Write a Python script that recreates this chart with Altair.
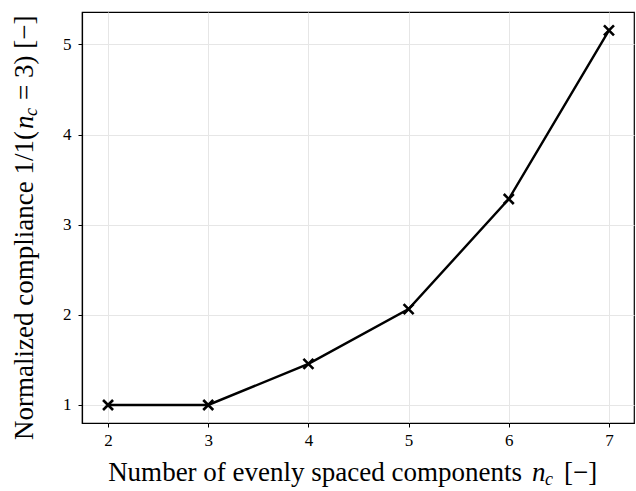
import altair as alt
import pandas as pd

# Normalized compliance versus number of evenly spaced components
n_components = [2, 3, 4, 5, 6, 7]
compliance = [1.0, 1.0, 1.456, 2.063, 3.285, 5.156]

x_ticks = [2, 3, 4, 5, 6, 7]
y_ticks = [1, 2, 3, 4, 5]

FONT = "Liberation Serif"
TITLE_SIZE = 27
SUB_SIZE = 18

df = pd.DataFrame({"nc": n_components, "c": compliance})

x_scale = alt.Scale(domain=[1.74, 7.25], nice=False, zero=False)
y_scale = alt.Scale(domain=[0.8, 5.36], nice=False, zero=False)

x_enc = alt.X(
    "nc:Q", scale=x_scale, title=None,
    axis=alt.Axis(values=x_ticks, format="d", labelPadding=5),
)
y_enc = alt.Y(
    "c:Q", scale=y_scale, title=None,
    axis=alt.Axis(values=y_ticks, format="d", labelPadding=7),
)

base = alt.Chart(df)

line = base.mark_line(color="black", strokeWidth=2.4).encode(x=x_enc, y=y_enc)

cross = base.mark_point(
    shape="M-1,-1L1,1M1,-1L-1,1",
    filled=False,
    color="black",
    strokeWidth=2.6,
    size=100,
    opacity=1,
).encode(x=x_enc, y=y_enc)


def label(text, x, y, size=TITLE_SIZE, style="normal", align="left", angle=0):
    return alt.Chart(pd.DataFrame({"t": [text]})).mark_text(
        font=FONT,
        fontSize=size,
        fontStyle=style,
        align=align,
        baseline="alphabetic",
        angle=angle,
        color="black",
    ).encode(text="t:N", x=alt.value(x), y=alt.value(y))


# x-axis title: "Number of evenly spaced components n_c [−]"
x_title = [
    label("Number of evenly spaced components", 440, 469, align="right"),
    label("n", 450, 469, style="italic"),
    label("c", 463, 473, size=SUB_SIZE, style="italic"),
    label("[−]", 482, 469),
]

# y-axis title: "Normalized compliance 1/1(n_c = 3) [−]"
y_title = [
    label("Normalized compliance 1/1(", -49, 428, angle=270),
    label("n", -49, 117, style="italic", angle=270),
    label("c", -45, 104, size=SUB_SIZE, style="italic", angle=270),
    label("=\u00a03)\u00a0[−]", -49, 88, angle=270),
]

chart = alt.layer(line, cross, *x_title, *y_title).properties(
    width=552,
    height=411,
    background="white",
    autosize=alt.AutoSizeParams(type="none"),
    padding={"left": 82, "top": 12, "right": 2, "bottom": 68},
).configure_view(
    stroke="black", strokeWidth=1.2
).configure_axis(
    domainColor="black",
    domainWidth=1.2,
    tickColor="black",
    tickSize=4,
    tickWidth=1,
    gridColor="#e6e6e6",
    gridWidth=1,
    labelFont=FONT,
    labelFontSize=17,
    labelColor="black",
)

chart.save("out.html", embed_options={"renderer": "svg", "actions": False})
